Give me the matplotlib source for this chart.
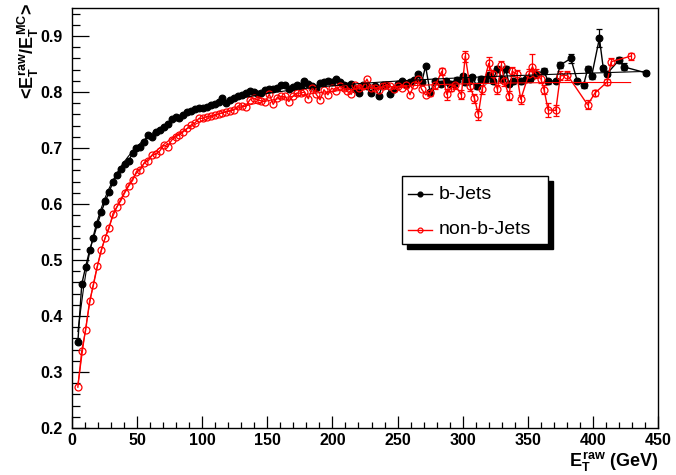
import numpy as np
import matplotlib
matplotlib.use("Agg")
import matplotlib.pyplot as plt
from matplotlib.patches import Rectangle
from matplotlib.lines import Line2D
from matplotlib.ticker import MultipleLocator, FixedLocator

plt.rcParams['font.family'] = ['Liberation Sans', 'DejaVu Sans']
plt.rcParams['mathtext.fontset'] = 'custom'
plt.rcParams['mathtext.rm'] = 'Liberation Sans:bold'
plt.rcParams['mathtext.it'] = 'Liberation Sans:bold'
plt.rcParams['mathtext.bf'] = 'Liberation Sans:bold'

# ---- data -------------------------------------------------------------
# densely populated region: 3 GeV bins, centres 4.5 ... 271.5 GeV
et_dense = np.arange(4.5, 272.0, 3.0)

bjet_dense = [
    0.354, 0.457, 0.488, 0.517, 0.540, 0.564, 0.586, 0.605, 0.621, 0.640,
    0.652, 0.663, 0.671, 0.677, 0.691, 0.700, 0.702, 0.711, 0.723, 0.720,
    0.729, 0.732, 0.738, 0.742, 0.751, 0.755, 0.753, 0.759, 0.765, 0.766,
    0.770, 0.771, 0.771, 0.774, 0.776, 0.779, 0.782, 0.789, 0.781, 0.785,
    0.790, 0.792, 0.795, 0.798, 0.801, 0.800, 0.797, 0.798, 0.803, 0.805,
    0.806, 0.808, 0.812, 0.812, 0.806, 0.809, 0.812, 0.810, 0.820, 0.814,
    0.811, 0.808, 0.816, 0.818, 0.820, 0.817, 0.824, 0.818, 0.812, 0.810,
    0.815, 0.806, 0.799, 0.812, 0.810, 0.798, 0.810, 0.792, 0.813, 0.812,
    0.797, 0.806, 0.815, 0.819, 0.813, 0.818, 0.822, 0.833, 0.817, 0.846,
]

nonb_dense = [
    0.273, 0.338, 0.375, 0.426, 0.456, 0.489, 0.518, 0.540, 0.557, 0.583,
    0.595, 0.606, 0.620, 0.632, 0.642, 0.658, 0.661, 0.674, 0.677, 0.687,
    0.689, 0.695, 0.705, 0.702, 0.714, 0.720, 0.724, 0.729, 0.735, 0.741,
    0.745, 0.753, 0.753, 0.756, 0.757, 0.759, 0.761, 0.763, 0.765, 0.766,
    0.768, 0.775, 0.775, 0.774, 0.786, 0.789, 0.786, 0.784, 0.783, 0.796,
    0.778, 0.790, 0.792, 0.792, 0.783, 0.792, 0.798, 0.798, 0.800, 0.788,
    0.808, 0.796, 0.786, 0.804, 0.795, 0.807, 0.802, 0.810, 0.807, 0.801,
    0.796, 0.8125, 0.807, 0.810, 0.823, 0.807, 0.807, 0.804, 0.810, 0.8125,
    0.810, 0.805, 0.810, 0.808, 0.812, 0.795, 0.812, 0.823, 0.805, 0.795,
]

# sparse high-E_T region (unevenly filled bins)
bjet_tail_et = [275, 279, 283, 287, 290, 293, 296, 300, 302, 305, 307.5, 311,
                314, 317, 320, 323, 326.7, 330.5, 333, 335.6, 339, 344.6,
                348.5, 352, 356, 362.5, 365.6, 371.5, 375, 383, 388, 392.8,
                396, 399, 405, 408, 411, 420, 423.6, 441]
bjet_tail = [0.800, 0.819, 0.815, 0.819, 0.815, 0.815, 0.822, 0.829, 0.817,
             0.820, 0.826, 0.810, 0.824, 0.822, 0.830, 0.820, 0.841, 0.824,
             0.841, 0.815, 0.819, 0.819, 0.823, 0.824, 0.833, 0.837, 0.819,
             0.820, 0.848, 0.860, 0.820, 0.812, 0.841, 0.828, 0.896, 0.842,
             0.833, 0.857, 0.845, 0.834]
bjet_tail_err = [0.004, 0.004, 0.004, 0.004, 0.004, 0.004, 0.004, 0.004,
                 0.004, 0.004, 0.004, 0.004, 0.004, 0.004, 0.004, 0.004,
                 0.006, 0.004, 0.005, 0.004, 0.004, 0.004, 0.004, 0.004,
                 0.005, 0.005, 0.004, 0.004, 0.006, 0.008, 0.004, 0.004,
                 0.005, 0.004, 0.016, 0.005, 0.005, 0.006, 0.006, 0.003]

nonb_tail_et = [275, 279, 284, 287.7, 290.8, 294, 299, 302, 305.6, 309, 312,
                315, 320, 323, 326.7, 329.7, 332, 335.6, 338, 341.5, 344.6,
                351, 353.6, 356, 360, 362.5, 365.6, 371.5, 375, 380.5, 396,
                401.5, 411, 414, 429]
nonb_tail = [0.798, 0.812, 0.837, 0.796, 0.807, 0.812, 0.795, 0.864, 0.810,
             0.789, 0.760, 0.805, 0.851, 0.832, 0.805, 0.848, 0.819, 0.793,
             0.837, 0.832, 0.787, 0.833, 0.845, 0.833, 0.824, 0.804, 0.768,
             0.767, 0.829, 0.830, 0.777, 0.798, 0.818, 0.854, 0.864]
nonb_tail_err = [0.006, 0.006, 0.006, 0.010, 0.006, 0.006, 0.008, 0.010,
                 0.008, 0.008, 0.010, 0.008, 0.012, 0.008, 0.008, 0.008,
                 0.008, 0.008, 0.008, 0.008, 0.008, 0.008, 0.022, 0.008,
                 0.008, 0.008, 0.012, 0.010, 0.008, 0.008, 0.008, 0.006,
                 0.006, 0.006, 0.006]

x_ticks = [0, 50, 100, 150, 200, 250, 300, 350, 400, 450]
y_ticks = [0.2, 0.3, 0.4, 0.5, 0.6, 0.7, 0.8, 0.9]

# ---- figure -----------------------------------------------------------
W, H = 676, 475
fig = plt.figure(figsize=(W / 100, H / 100), dpi=100)
ax = fig.add_axes([72 / W, 1 - 428 / H, 586 / W, 420 / H])


def response_fit(et, val):
    """Least-squares fit of a smooth response curve, polynomial in log(E)."""
    et = np.asarray(et, float)
    coef = np.polyfit(np.log(et), np.asarray(val, float), 4)
    grid = np.linspace(et.min(), et.max(), 500)
    return grid, np.polyval(coef, np.log(grid))


series = [
    ("b-Jets", "black", "o", "black", bjet_dense, bjet_tail_et, bjet_tail, bjet_tail_err),
    ("non-b-Jets", "red", "o", "none", nonb_dense, nonb_tail_et, nonb_tail, nonb_tail_err),
]

fits = []
for label, col, mk, face, dense, t_et, t_val, t_err in series:
    et_all = np.concatenate([et_dense, t_et])
    val_all = np.concatenate([dense, t_val])
    ax.errorbar(t_et, t_val, yerr=t_err, fmt="none", ecolor=col,
                elinewidth=0.9, capsize=2.2, capthick=0.9, zorder=3)
    ax.plot(et_all, val_all, color=col, lw=1.0, marker=mk,
            markersize=5.0 if face == "none" else 4.8,
            markerfacecolor=face, markeredgecolor=col,
            markeredgewidth=0.9, zorder=4)
    fits.append((col, response_fit(et_all, val_all)))

for col, (gx, gy) in fits[::-1]:
    ax.plot(gx, gy, color=col, lw=0.8, zorder=5)

ax.set_xlim(0, 450)
ax.set_ylim(0.2, 0.95)
ax.xaxis.set_major_locator(FixedLocator(x_ticks))
ax.yaxis.set_major_locator(FixedLocator(y_ticks))
ax.xaxis.set_minor_locator(MultipleLocator(10))
ax.yaxis.set_minor_locator(MultipleLocator(0.02))
ax.set_xticklabels([f"{v:g}" for v in x_ticks])
ax.set_yticklabels([f"{v:.1f}" for v in y_ticks])
ax.tick_params(axis="both", which="both", direction="in",
               top=False, right=False, width=0.9, colors="black")
ax.tick_params(axis="y", which="major", length=12.2, pad=6.5)
ax.tick_params(axis="y", which="minor", length=6.1)
ax.tick_params(axis="x", which="major", length=9.0, pad=3.5)
ax.tick_params(axis="x", which="minor", length=4.5)
for lab in ax.get_xticklabels() + ax.get_yticklabels():
    lab.set_fontweight("bold")
    lab.set_fontsize(11.5)
for sp in ax.spines.values():
    sp.set_linewidth(1.0)

# axis titles
fig.text(41 / W, 1 - 3 / H, r"<$E_T^{raw}$/$E_T^{MC}$>", rotation=90,
         ha="right", va="top", fontsize=13, fontweight="bold")
fig.text(658 / W, 1 - 467 / H, r"$E_T^{raw}$ (GeV)", ha="right",
         va="baseline", fontsize=13, fontweight="bold")

# legend box with solid shadow
bx0, by0, bx1, by1 = 402, 176, 548, 244
sh = 5
fig.patches.append(Rectangle(((bx0 + sh) / W, 1 - (by1 + sh) / H),
                             (bx1 - bx0) / W, (by1 - by0) / H,
                             transform=fig.transFigure, facecolor="black",
                             edgecolor="black", zorder=10))
fig.patches.append(Rectangle((bx0 / W, 1 - by1 / H), (bx1 - bx0) / W,
                             (by1 - by0) / H, transform=fig.transFigure,
                             facecolor="white", edgecolor="black", lw=1.0,
                             zorder=11))
for (label, col, mk, face, *_), yy in zip(series, [194, 230]):
    fig.lines.append(Line2D([408 / W, 432 / W], [1 - yy / H, 1 - yy / H],
                            transform=fig.transFigure, color=col, lw=1.0,
                            zorder=12))
    fig.lines.append(Line2D([420 / W], [1 - yy / H], transform=fig.transFigure,
                            marker=mk, markersize=3.5, markerfacecolor=face,
                            markeredgecolor=col, markeredgewidth=0.9,
                            linestyle="none", zorder=13))
    fig.text(439 / W, 1 - yy / H, label, ha="left", va="center",
             fontsize=14, zorder=14)

fig.savefig("out.png", dpi=100)
